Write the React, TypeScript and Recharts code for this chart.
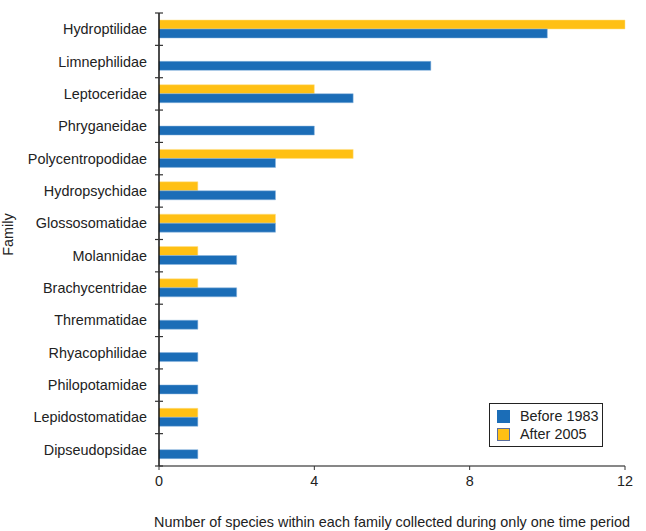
import { BarChart, Bar, XAxis, YAxis, Legend } from 'recharts';

const families = [
  'Hydroptilidae',
  'Limnephilidae',
  'Leptoceridae',
  'Phryganeidae',
  'Polycentropodidae',
  'Hydropsychidae',
  'Glossosomatidae',
  'Molannidae',
  'Brachycentridae',
  'Thremmatidae',
  'Rhyacophilidae',
  'Philopotamidae',
  'Lepidostomatidae',
  'Dipseudopsidae',
];
const before1983 = [10, 7, 5, 4, 3, 3, 3, 2, 2, 1, 1, 1, 1, 1];
const after2005 = [12, 0, 4, 0, 5, 1, 3, 1, 1, 0, 0, 0, 1, 0];
const xTicks = [0, 4, 8, 12];

const data = families.map((name, i) => ({
  name,
  before: before1983[i],
  after: after2005[i],
}));

const BLUE = '#1b6db7';
const YELLOW = '#ffc014';
const FONT = '"Liberation Sans", Arial, sans-serif';
const FS = 14.4;

const TOP = 13;
const PLOT_H = 453;
const BAND = PLOT_H / families.length;

function FamilyTick(props: any) {
  const { x, y, payload, index } = props;
  const axisX = x + 12;
  return (
    <g>
      <line x1={axisX - 4} x2={axisX + 4} y1={y - BAND / 2} y2={y - BAND / 2} stroke="#333" strokeWidth={1.2} />
      {index === families.length - 1 && (
        <line x1={axisX - 4} x2={axisX + 4} y1={y + BAND / 2} y2={y + BAND / 2} stroke="#333" strokeWidth={1.2} />
      )}
      <text x={x} y={y} dy={5} textAnchor="end" fill="#222" fontSize={FS} fontFamily={FONT}>
        {payload.value}
      </text>
    </g>
  );
}

function FamilyLabel(props: any) {
  const { viewBox } = props;
  const cy = viewBox.y + viewBox.height / 2 - 5;
  return (
    <text x={13} y={cy} transform={`rotate(-90, 13, ${cy})`} textAnchor="middle" fill="#222" fontSize={FS} fontFamily={FONT}>
      Family
    </text>
  );
}

function LegendBox() {
  const items = [
    { label: 'Before 1983', fill: BLUE, stroke: BLUE },
    { label: 'After 2005', fill: YELLOW, stroke: '#5a6e9c' },
  ];
  return (
    <div
      style={{
        border: '1.5px solid #222',
        background: '#fff',
        width: 105,
        padding: '3px 0 3px 7px',
        fontFamily: FONT,
        fontSize: FS,
        color: '#222',
        lineHeight: '18px',
      }}
    >
      {items.map((it) => (
        <div key={it.label} style={{ display: 'flex', alignItems: 'center' }}>
          <span
            style={{
              width: 11,
              height: 11,
              background: it.fill,
              border: `1px solid ${it.stroke}`,
              marginRight: 10,
              display: 'inline-block',
            }}
          />
          {it.label}
        </div>
      ))}
    </div>
  );
}

export default function App() {
  return (
    <div style={{ position: 'absolute', left: 0, top: 0, background: '#fff' }}>
      <BarChart
        width={646}
        height={531}
        data={data}
        layout="vertical"
        margin={{ top: TOP, right: 21, left: 0, bottom: 0 }}
        barGap={0}
        barCategoryGap={7}
      >
        <XAxis
          type="number"
          domain={[0, 12]}
          ticks={xTicks}
          height={65}
          axisLine={{ stroke: '#111', strokeWidth: 1.2 }}
          tickLine={{ stroke: '#333' }}
          tickSize={4}
          tickMargin={6}
          tick={{ fill: '#222', fontSize: FS, fontFamily: FONT }}
          label={{
            value: 'Number of species within each family collected during only one time period',
            position: 'insideBottom',
            offset: 4,
            fill: '#222',
            fontSize: FS,
            fontFamily: FONT,
          }}
        />
        <YAxis
          type="category"
          dataKey="name"
          width={159}
          axisLine={{ stroke: '#111', strokeWidth: 1.5 }}
          tickLine={false}
          tickSize={0}
          tickMargin={12}
          interval={0}
          tick={<FamilyTick />}
          label={<FamilyLabel />}
        />
        <Legend
          layout="vertical"
          align="center"
          verticalAlign="middle"
          wrapperStyle={{ position: 'absolute', left: 489, top: 403, width: 114 }}
          content={() => <LegendBox />}
        />
        <Bar dataKey="after" name="After 2005" fill={YELLOW} stroke="#ffe08a" strokeWidth={0.5} isAnimationActive={false} />
        <Bar dataKey="before" name="Before 1983" fill={BLUE} stroke="#8db6de" strokeWidth={0.5} isAnimationActive={false} />
      </BarChart>
    </div>
  );
}
